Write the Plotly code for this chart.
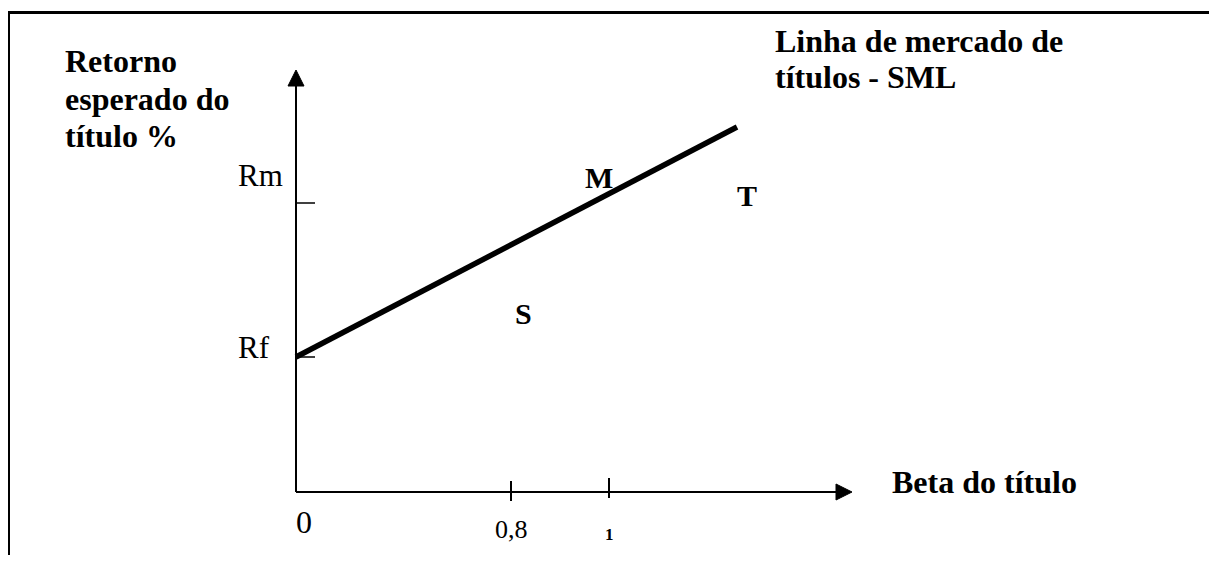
import plotly.graph_objects as go

# ---- diagram data (schematic units: origin of the axes at 0,0) ----
beta_tick_labels = ["0", "0,8", "1"]
beta_tick_pos = [0.0, 2.15, 3.13]          # positions of the beta ticks on the x axis
return_tick_labels = ["Rf", "Rm"]
return_tick_pos = [1.35, 2.89]             # Rf and Rm on the y axis
sml_x = [0.0, 4.41]                        # Security market line
sml_y = [1.35, 3.65]
point_labels = ["M", "S", "T"]
point_x = [3.03, 2.27, 4.51]
point_y = [3.15, 1.79, 2.97]
x_axis_end = 5.56                          # tip of the x arrow
y_axis_end = 4.22                          # tip of the y arrow

# page layout helpers (page 1217x563, body margin 8px, axis origin at page pixel 296,492)
PW, PH = 1217, 563
M = 8
W, H = PW - M, PH - 2 * M
OX, OY = 296, 492
def dx(px):
    return (px - OX) / 100.0
def dy(py):
    return (OY - py) / 100.0
def paper_x(px):
    return (px - M) / W
def paper_y(py):
    return 1 - (py - M) / H

SERIF = "Liberation Serif"
fig = go.Figure()

def add_line(xs, ys, width):
    fig.add_trace(go.Scatter(x=xs, y=ys, mode="lines",
                             line=dict(color="black", width=width),
                             hoverinfo="skip", showlegend=False))

# axes
add_line([0, 0], [0, y_axis_end - 0.16], 2)
add_line([0, x_axis_end - 0.16], [0, 0], 2)
# arrowheads
fig.add_trace(go.Scatter(x=[-0.08, 0.08, 0, -0.08],
                         y=[y_axis_end - 0.16, y_axis_end - 0.16, y_axis_end, y_axis_end - 0.16],
                         mode="lines", fill="toself", fillcolor="black",
                         line=dict(color="black", width=1), hoverinfo="skip", showlegend=False))
fig.add_trace(go.Scatter(x=[x_axis_end - 0.16, x_axis_end - 0.16, x_axis_end, x_axis_end - 0.16],
                         y=[0.08, -0.08, 0, 0.08],
                         mode="lines", fill="toself", fillcolor="black",
                         line=dict(color="black", width=1), hoverinfo="skip", showlegend=False))
# y ticks (Rf, Rm)
for v in return_tick_pos:
    add_line([0, 0.19], [v, v], 1.5)
# x ticks (0,8 and 1)
tick_offsets = [(0.11, -0.09), (0.14, -0.06)]
for v, (up, dn) in zip(beta_tick_pos[1:], tick_offsets):
    add_line([v, v], [dn, up], 2)

# SML
add_line(sml_x, sml_y, 5.5)

ann = []
def txt(text, x, y, size, bold=False, xanchor="left"):
    ann.append(dict(text=text, x=x, y=y,
                    xref="x", yref="y", showarrow=False, xanchor=xanchor,
                    yanchor="middle",
                    font=dict(family=SERIF, size=size, color="black",
                              weight=700 if bold else 400)))

# y axis title lines
for i, line in enumerate(["Retorno", "esperado do", "título %"]):
    txt(line, dx(63), dy([61, 99, 136][i]), 32, True)
# SML title
for i, line in enumerate(["Linha de mercado de", "títulos - SML"]):
    txt(line, dx(773), dy([41, 77][i]), 32, True)
# x axis title
txt("Beta do título", dx(890), dy(482), 32, True)

# y tick labels
txt(return_tick_labels[0], dx(236), return_tick_pos[0] + 0.095, 31)
txt(return_tick_labels[1], dx(236), return_tick_pos[1] + 0.28, 31)

# x tick labels
tick_lab_y = [dy(522), dy(529), dy(534)]
tick_lab_size = [32, 26, 17]
tick_lab_bold = [False, False, True]
tick_lab_dx = [0.08, 0.0, 0.0]
for lab, p, yy, s, b, o in zip(beta_tick_labels, beta_tick_pos, tick_lab_y,
                               tick_lab_size, tick_lab_bold, tick_lab_dx):
    txt(lab, p + o, yy, s, b, xanchor="center")

# point labels
for lab, x, y in zip(point_labels, point_x, point_y):
    txt(lab, x, y, 30, True, xanchor="center")

# frame (page border)
shapes = [
    dict(type="line", xref="paper", yref="paper", x0=0, x1=1,
         y0=paper_y(12.5), y1=paper_y(12.5), line=dict(color="black", width=3)),
    dict(type="line", xref="paper", yref="paper", x0=paper_x(9), x1=paper_x(9),
         y0=0, y1=paper_y(11), line=dict(color="black", width=2)),
    dict(type="line", xref="paper", yref="paper", x0=paper_x(1215.5), x1=paper_x(1215.5),
         y0=0, y1=paper_y(11), line=dict(color="#444444", width=2)),
]

fig.update_layout(
    width=W, height=H, margin=dict(l=0, r=0, t=0, b=0),
    paper_bgcolor="white", plot_bgcolor="white",
    xaxis=dict(range=[dx(M), dx(PW)], visible=False, fixedrange=True),
    yaxis=dict(range=[dy(M + H), dy(M)], visible=False, fixedrange=True),
    annotations=ann, shapes=shapes, showlegend=False,
)
fig.write_html("out.html")
